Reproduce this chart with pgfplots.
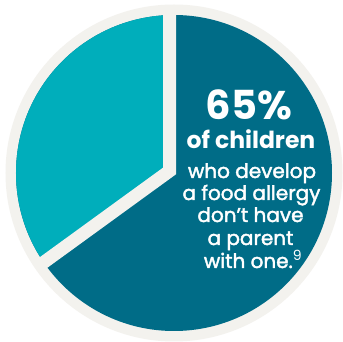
\documentclass[border=0pt]{standalone}
\usepackage{fontspec}
\setmainfont{Poppins}
\newfontfamily\popmed{Poppins}[FakeBold=2]
\usepackage{pgfplots}
\usepackage{pgfplotstable}
\pgfplotsset{compat=1.18}
\definecolor{ring}{RGB}{243,242,238}
\definecolor{darkteal}{RGB}{0,108,135}
\definecolor{lightteal}{RGB}{0,174,187}
\pgfplotstableread{
label value
parent 35
noparent 65
}\pietable
\begin{document}
\begin{tikzpicture}
\pgfplotstablegetelem{0}{value}\of\pietable
\pgfmathsetmacro{\endang}{90+\pgfplotsretval*3.6}
\begin{axis}[x=1bp,y=1bp,disabledatascaling,scale only axis,
  xmin=0,xmax=343,ymin=0,ymax=341,hide axis,clip=false]
\fill[white] (axis cs:0,0) rectangle (axis cs:343,341);
\fill[ring] (axis cs:174,168) circle[radius=168.5bp];
\fill[darkteal] (axis cs:174,168) circle[radius=158bp];
\fill[lightteal] (axis cs:174,168) -- ++(90:158bp) arc[start angle=90,end angle=\endang,radius=158bp] -- cycle;
\draw[ring,line width=13bp,line join=miter] (axis cs:169.5,333) -- (axis cs:169.5,170) -- ++(\endang:163bp);
\begin{scope}[every node/.style={text=white,anchor=base,inner sep=0pt}]
\node at (axis cs:249,221) {\fontsize{40bp}{40bp}\selectfont\bfseries 65\%};
\node at (axis cs:251,192) {\fontsize{23.5bp}{24bp}\selectfont\bfseries of children};
\node at (axis cs:252,163) {\popmed\fontsize{20bp}{20bp}\selectfont who develop};
\node at (axis cs:251.5,141) {\popmed\fontsize{20bp}{20bp}\selectfont a food allergy};
\node at (axis cs:250.5,119) {\popmed\fontsize{20bp}{20bp}\selectfont don’t have};
\node at (axis cs:250.5,96) {\popmed\fontsize{20bp}{20bp}\selectfont a parent};
\node at (axis cs:253,73) {\popmed\fontsize{20bp}{20bp}\selectfont with one.{\rmfamily\mdseries\textsuperscript{9}}};
\end{scope}
\end{axis}
\end{tikzpicture}
\end{document}
